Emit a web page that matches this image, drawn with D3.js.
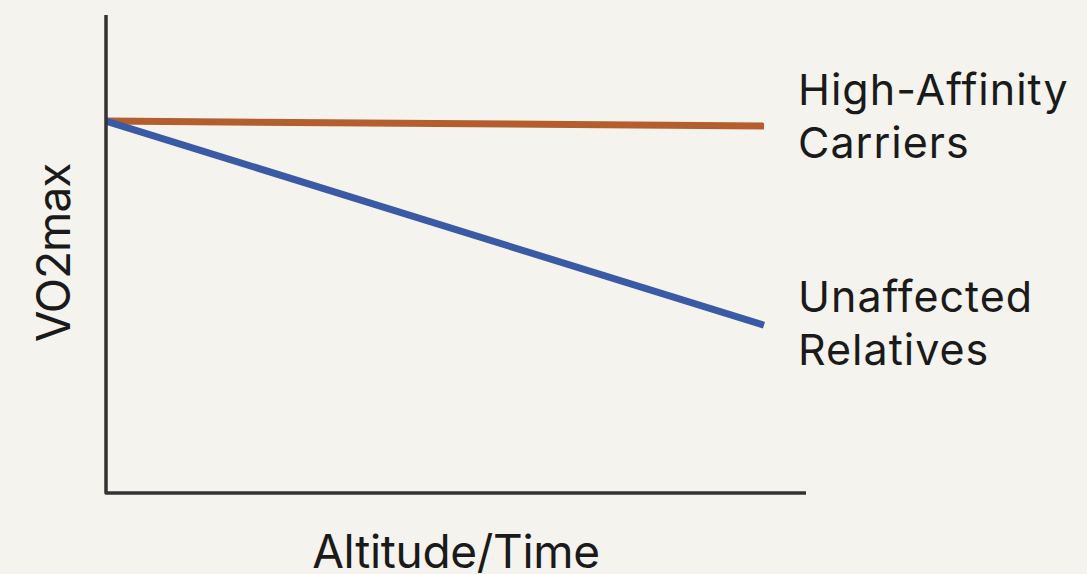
<!DOCTYPE html>
<html>
<head>
<meta charset="utf-8">
<script src="https://cdn.jsdelivr.net/npm/d3@7"></script>
<style>
  html, body { margin: 0; padding: 0; background: #f4f3ed; }
  svg { display: block; }
</style>
</head>
<body>
<div id="chart"></div>
<script>
// series: position along altitude/time (0..1) and relative VO2max (0..1)
var xs = [0, 0.94];
var carriers = [0.778, 0.768];
var relatives = [0.778, 0.351];
var seriesNames = [["High-Affinity", "Carriers"], ["Unaffected", "Relatives"]];
var xLabel = "Altitude/Time";
var yLabel = "VO2max";

var W = 1087, H = 574;
var X = d3.scaleLinear().domain([0,1]).range([106,806]);
var Y = d3.scaleLinear().domain([0,1]).range([493,15]);

var svg = d3.select("#chart").append("svg")
	.attr("width",W).attr("height",H)
	.style("font-family","Inter, 'Noto Sans', sans-serif");

var line = d3.line().x(d=>X(d[0])).y(d=>Y(d[1]));

var series = [
	{vals: carriers, color: "#b55e2d", name: seriesNames[0]},
	{vals: relatives, color: "#3a5aa5", name: seriesNames[1]}
];

series.forEach(function(s){
	svg.append("path")
		.attr("d", line(xs.map((x,i)=>[x, s.vals[i]])))
		.style("fill","none")
		.style("stroke",s.color)
		.style("stroke-width",7);
});

// axes (no ticks)
svg.append("path")
	.attr("d","M"+X(0)+","+Y(1)+"L"+X(0)+","+Y(0)+"L"+X(1)+","+Y(0))
	.style("fill","none")
	.style("stroke","#333")
	.style("stroke-width",3.5)
	.style("stroke-linejoin","round");

// series labels
var labelY = [[105,158],[312,365]];
series.forEach(function(s,i){
	s.name.forEach(function(t,j){
		svg.append("text")
			.attr("x",798)
			.attr("y",labelY[i][j])
			.text(t)
			.style("font-size","43px")
			.style("letter-spacing","1px")
			.style("fill","#1a1a1a");
	});
});

svg.append("text")
	.attr("x",456).attr("y",568)
	.attr("text-anchor","middle")
	.text(xLabel)
	.style("font-size","46px")
	.style("letter-spacing","-0.3px")
	.style("fill","#1a1a1a");

svg.append("text")
	.attr("transform","translate(70,253) rotate(-90)")
	.attr("text-anchor","middle")
	.text(yLabel)
	.style("font-size","46px")
	.style("letter-spacing","-1px")
	.style("fill","#1a1a1a");
</script>
</body>
</html>
